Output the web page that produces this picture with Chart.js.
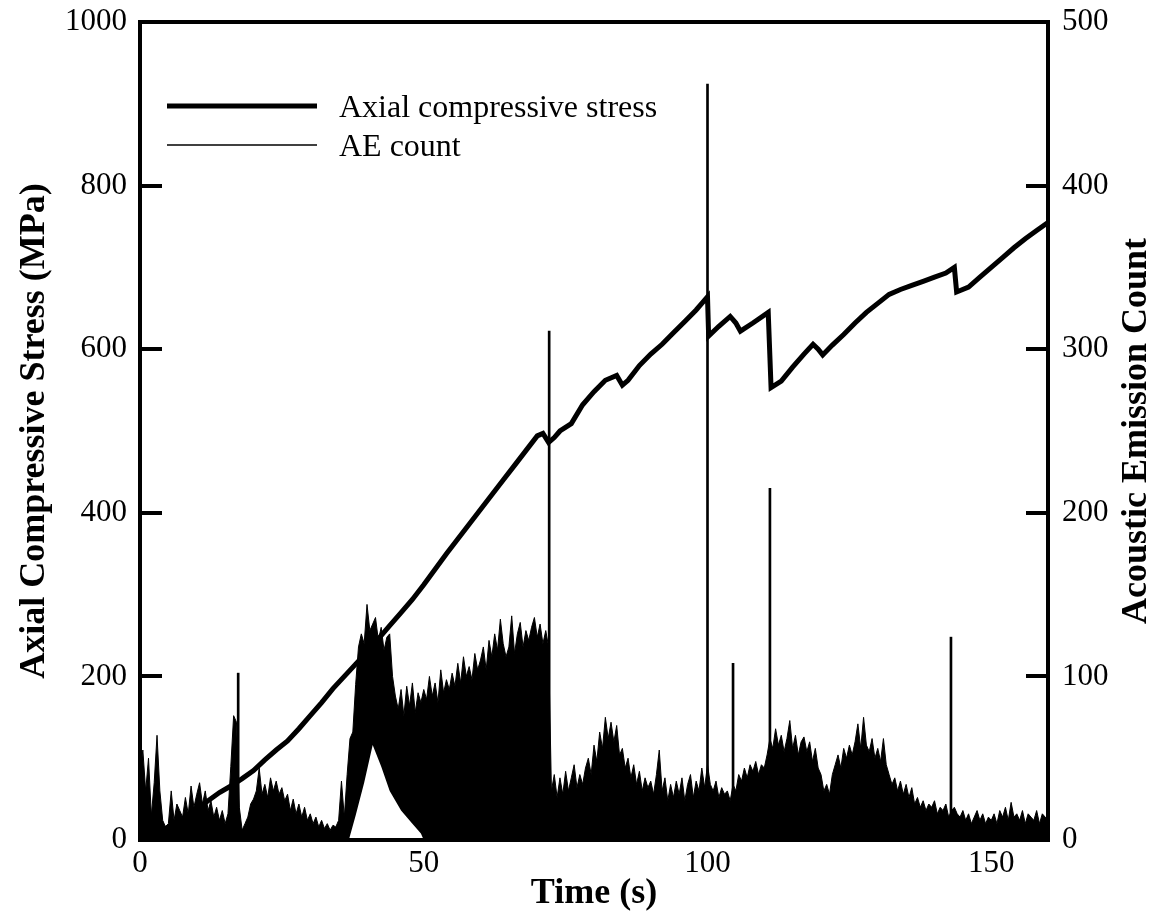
<!DOCTYPE html>
<html>
<head>
<meta charset="utf-8">
<script src="https://cdn.jsdelivr.net/npm/chart.js@4.4.1/dist/chart.umd.min.js"></script>
<style>
  html, body { margin: 0; padding: 0; background: #fff; }
  #wrap { width: 1164px; height: 921px; }
</style>
</head>
<body>
<div id="wrap"><canvas id="graficoAE"></canvas></div>
<script>
// axial stress curve: time (s) -> MPa
const stressTime = [0, 1, 2, 3, 4, 6, 8, 10, 12, 14, 16, 18, 20, 22, 24, 26, 28, 30, 32, 34, 36, 38, 40,
  42, 44, 46, 48, 50, 52, 54, 56, 58, 60, 62, 64, 66, 68, 70, 71, 72, 73, 74, 76, 78, 80, 82, 84, 85,
  86, 88, 90, 92, 94, 96, 98, 99, 100, 100.2, 102, 104, 105, 105.8, 108, 110.7, 111.2, 113, 115, 117,
  118.6, 119.5, 120.3, 122, 124, 126, 128, 130, 132, 134, 136, 138, 140, 142, 143.5, 143.9, 146, 148,
  150, 152, 154, 156, 158, 160];
const stressValue = [0, 2, 5, 8, 12, 20, 28, 38, 48, 58, 66, 75, 85, 98, 110, 121, 136, 152, 168, 185, 200, 215, 230,
  246, 262, 278, 294, 312, 331, 350, 368, 386, 404, 422, 440, 458, 476, 494, 497, 486, 492, 500, 509, 532, 548, 562, 568, 556,
  562, 580, 594, 606, 620, 634, 648, 656, 664, 616, 628, 640, 632, 622, 632, 645, 553, 561, 578, 594,
  606, 600, 593, 605, 618, 632, 645, 656, 667, 673, 678, 683, 688, 693, 700, 670, 676, 688,
  700, 712, 724, 735, 745, 755];

// AE count, upper edge of the dense trace, one reading every 0.5 s from 0 to 160 s
const aeStep = 0.5;
const aeCount = [
  40, 55, 30, 50, 15, 35, 64, 30, 12, 8,
  10, 30, 12, 22, 18, 14, 26, 16, 33, 20,
  28, 35, 22, 30, 18, 24, 14, 20, 12, 18,
  10, 16, 45, 76, 72, 20, 6, 10, 14, 22,
  25, 30, 44, 28, 34, 26, 38, 30, 36, 28,
  32, 24, 28, 18, 25, 16, 22, 14, 20, 12,
  16, 10, 14, 8, 12, 7, 10, 6, 9, 8,
  12, 36, 14, 40, 62, 66, 95, 118, 126, 120,
  144, 128, 132, 136, 122, 130, 116, 124, 126, 100,
  88, 80, 92, 76, 94, 82, 96, 78, 90, 84,
  92, 86, 100, 88, 96, 84, 104, 90, 98, 92,
  102, 94, 108, 96, 112, 100, 106, 98, 114, 104,
  110, 118, 104, 122, 112, 126, 116, 135, 120, 112,
  118, 137, 114, 126, 133, 118, 128, 122, 130, 136,
  124, 132, 120, 128, 118, 30, 40, 26, 38, 28,
  42, 30, 38, 46, 32, 40, 34, 44, 50, 40,
  58, 48, 66, 56, 75, 62, 72, 60, 70, 52,
  56, 44, 50, 38, 46, 34, 42, 30, 38, 32,
  36, 28, 40, 55, 30, 38, 24, 34, 26, 36,
  28, 38, 24, 34, 40, 26, 36, 30, 44, 32,
  46, 34, 30, 36, 26, 32, 28, 30, 24, 34,
  30, 40, 36, 44, 38, 46, 42, 48, 40, 46,
  44, 52, 62, 56, 68, 58, 64, 54, 62, 73,
  56, 64, 52, 60, 63, 54, 60, 48, 56, 44,
  40, 30, 34, 28, 40, 46, 52, 44, 56, 50,
  58, 52, 60, 71, 56, 75, 58, 54, 62, 50,
  56, 48, 62, 46, 40, 34, 38, 30, 36, 28,
  34, 26, 32, 22, 26, 20, 24, 18, 22, 20,
  24, 16, 20, 18, 22, 14, 18, 20, 16, 14,
  18, 12, 16, 10, 14, 18, 12, 16, 10, 14,
  12, 16, 10, 18, 14, 20, 12, 23, 14, 16,
  12, 18, 10, 16, 14, 12, 18, 10, 16, 14,
  12];

// lower edge of the trace where it lifts off the axis
const aeLowTime = [0, 36.8, 38, 39.5, 41, 42.5, 44, 46, 48, 49.5, 50, 160];
const aeLowCount = [0, 0, 15, 35, 58, 45, 30, 18, 10, 4, 0, 0];

// isolated tall AE bursts
const spikeTime = [17.3, 72.1, 100.0, 104.5, 111.0, 142.9];
const spikeCount = [102, 311, 462, 108, 215, 124];

const xTicks = [0, 50, 100, 150];

const serif = "'Liberation Serif', 'Times New Roman', serif";
Chart.defaults.font.family = serif;
Chart.defaults.color = '#000';

// legend inside the plot + right title read bottom-to-top
const extraText = {
  id: 'extraText',
  afterDraw(chart) {
    const {ctx, chartArea} = chart;
    ctx.save();
    const items = [
      {text: chart.data.datasets[0].label, width: 5, y: chartArea.top + 84},
      {text: chart.data.datasets[2].label, width: 1.5, y: chartArea.top + 123}
    ];
    ctx.strokeStyle = '#000';
    ctx.fillStyle = '#000';
    ctx.font = '32px ' + serif;
    ctx.textBaseline = 'alphabetic';
    items.forEach(it => {
      ctx.lineWidth = it.width;
      ctx.beginPath();
      ctx.moveTo(chartArea.left + 27, it.y);
      ctx.lineTo(chartArea.left + 177, it.y);
      ctx.stroke();
      ctx.fillText(it.text, chartArea.left + 199, it.y + 11);
    });
    ctx.translate(1137, (chartArea.top + chartArea.bottom) / 2);
    ctx.rotate(-Math.PI / 2);
    ctx.font = 'bold 36px ' + serif;
    ctx.textAlign = 'center';
    ctx.textBaseline = 'middle';
    ctx.fillText('Acoustic Emission Count', 0, 0);
    ctx.restore();
  }
};

// label overflow would otherwise push the plot down
const noPad = (s) => { s.paddingTop = 0; s.paddingBottom = 0; };

const ctxAE = document.getElementById('graficoAE');
new Chart(ctxAE, {
  type: 'line',
  data: {
    datasets: [
      {
        label: 'Axial compressive stress',
        data: stressTime.map((t, i) => ({x: t, y: stressValue[i]})),
        yAxisID: 'y',
        borderColor: '#000',
        borderWidth: 5,
        pointRadius: 0,
        fill: false,
        order: 0
      },
      {
        type: 'bar',
        label: 'AE bursts',
        data: spikeTime.map((t, i) => ({x: t, y: spikeCount[i]})),
        yAxisID: 'y2',
        backgroundColor: '#000',
        borderWidth: 0,
        barThickness: 2,
        order: 1
      },
      {
        label: 'AE count',
        data: aeCount.map((c, i) => ({x: i * aeStep, y: c})),
        yAxisID: 'y2',
        borderColor: '#000',
        borderWidth: 1,
        backgroundColor: '#000',
        pointRadius: 0,
        fill: '+1',
        order: 2
      },
      {
        label: 'AE low',
        data: aeLowTime.map((t, i) => ({x: t, y: aeLowCount[i]})),
        yAxisID: 'y2',
        borderWidth: 0,
        pointRadius: 0,
        fill: false,
        order: 3
      }
    ]
  },
  options: {
    responsive: true,
    maintainAspectRatio: false,
    animation: false,
    devicePixelRatio: 1,
    layout: {padding: {top: 22, left: 0, right: 0, bottom: 0}},
    plugins: {
      legend: {display: false},
      tooltip: {enabled: false}
    },
    scales: {
      x: {
        type: 'linear',
        position: 'bottom',
        min: 0,
        max: 160,
        offset: false,
        afterBuildTicks(s) { s.ticks = xTicks.map(v => ({value: v})); },
        ticks: {padding: 27, font: {size: 31}, color: '#000', maxRotation: 0, callback: v => String(v)},
        grid: {drawOnChartArea: false, tickLength: -22, color: '#000', lineWidth: 4},
        border: {color: '#000', width: 4},
        title: {display: true, text: 'Time (s)', font: {size: 36, weight: 'bold'}, color: '#000', padding: {top: 0, bottom: 6}},
        afterFit(s) { s.height = 81; }
      },
      xTop: {
        type: 'linear',
        position: 'top',
        min: 0,
        max: 160,
        ticks: {display: false},
        grid: {display: false},
        border: {color: '#000', width: 4},
        afterFit(s) { s.height = 0; }
      },
      y: {
        position: 'left',
        min: 0,
        max: 1000,
        ticks: {stepSize: 200, padding: 35, font: {size: 31}, color: '#000', callback: v => String(v)},
        grid: {drawOnChartArea: false, tickLength: -22, color: '#000', lineWidth: 4},
        border: {color: '#000', width: 4},
        title: {display: true, text: 'Axial Compressive Stress (MPa)', font: {size: 36, weight: 'bold'}, color: '#000', padding: {top: 13, bottom: 0}},
        afterFit(s) { s.width = 140; noPad(s); }
      },
      y2: {
        position: 'right',
        min: 0,
        max: 500,
        ticks: {stepSize: 100, padding: 36, font: {size: 31}, color: '#000', callback: v => String(v)},
        grid: {drawOnChartArea: false, tickLength: -22, color: '#000', lineWidth: 4},
        border: {color: '#000', width: 4},
        afterFit(s) { s.width = 116; noPad(s); }
      }
    }
  },
  plugins: [extraText]
});
</script>
</body>
</html>
